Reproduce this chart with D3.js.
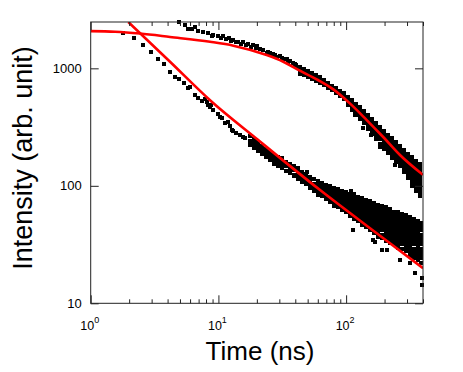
<!DOCTYPE html>
<html lang="en">

<head>
    <meta charset="utf-8" />
    <script src="https://cdnjs.cloudflare.com/ajax/libs/d3/7.8.5/d3.min.js"></script>
    <style type="text/css">
        body {
            margin: 0;
            background: #fff;
        }

        svg {
            display: block;
        }
    </style>
</head>

<body>
    <div class="svg-box"></div>
    <script type="text/javascript">
        // Fit curves (red)
        var upperFitT = [1, 1.55, 2.43, 4.18, 8.6, 13.1, 23.9, 32.2, 43.5, 58.9, 79.4, 107, 145, 196, 264, 400];
        var upperFitI = [2075, 2050, 1977, 1850, 1683, 1560, 1297, 1138, 955, 805, 662, 503, 363, 259, 183, 124];
        var lowerFitT = [1.97, 4.18, 8.6, 20.5, 62.5, 154, 400];
        var lowerFitI = [2480, 1138, 535, 245, 92, 43.5, 19.9];

        // Upper decay, sparse part + a few stray points
        var upperT = [4.94, 5.47, 5.81, 6.18, 6.56, 6.96, 7.62, 8.34, 8.9, 9.12, 9.98, 10.4, 10.9, 11.4, 12.0,
            12.6, 13.1, 13.7, 14.3, 15.0, 15.7, 16.4, 17.1, 18.0, 18.8, 19.8, 20.2, 21.2, 22.5, 23.9,
            24.6, 25.3, 26.9, 27.8, 28.6, 30.4, 31.3, 32.2, 34.3, 35.3, 36.4, 38.6, 39.6, 40.5, 42.3,
            136, 157, 184, 241];
        var upperI = [2470, 2330, 2160, 2160, 2250, 2075, 2020, 1980, 1870, 1940, 1900, 1820, 1880, 1790, 1810,
            1720, 1750, 1680, 1690, 1620, 1660, 1570, 1610, 1530, 1580, 1500, 1540, 1450, 1420, 1360,
            1390, 1340, 1320, 1290, 1260, 1270, 1230, 1200, 1190, 1140, 1150, 1110, 1080, 1060, 1000,
            312, 270, 215, 150];

        // Upper decay, dense part: one group of channels per entry
        var upperBandT = [43.5, 46.9, 50.3, 54.1, 58.2, 62.5, 67.1, 72.1, 77.6, 83.4, 89.6, 96.4, 103.5, 111, 119,
            128.5, 138, 148.5, 160, 171, 184, 198, 213, 229, 246, 264, 284, 305, 328, 352, 379];
        var upperBandI = [
            [1030, 950, 905], [986, 912, 877], [948, 877, 843], [912, 843, 811], [877, 811, 780],
            [835, 772, 750], [795, 735, 720], [750, 694, 680], [707, 654], [673, 622, 616],
            [641, 592, 581], [610, 564, 548], [570, 527, 487], [532, 492, 455, 442], [497, 459, 425, 400],
            [464, 429, 397, 370], [433, 400, 370, 342], [400, 370, 342, 316, 304], [370, 342, 316, 293, 276],
            [342, 316, 293, 270, 250], [316, 293, 270, 250, 227], [293, 270, 250, 231, 214, 206],
            [270, 250, 231, 214, 198, 190], [255, 236, 218, 202, 186, 172], [236, 218, 202, 186, 172, 159],
            [218, 202, 186, 172, 159, 147], [202, 186, 172, 159, 147, 136, 131], [186, 172, 159, 147, 136, 126, 117],
            [174, 161, 149, 138, 128, 118, 109, 101], [161, 149, 138, 128, 118, 109, 101, 94, 90],
            [151, 140, 130, 120, 111, 103, 95, 88, 82]
        ];

        // Lower decay, sparse part + outliers
        var lowerT = [1.80, 2.19, 2.58, 2.97, 3.38, 3.75, 4.18, 4.57, 4.94, 5.38, 5.81, 5.99, 6.56, 6.96, 7.4,
            7.86, 8.1, 8.34, 8.6, 8.8, 9.12, 9.98, 10.2, 10.6, 11.3, 11.8, 12.3, 12.7, 13.1, 13.8,
            14.8, 15.7, 16.2, 21.8, 28.6, 32.2, 36.4, 49.1, 60.6, 110, 114, 163, 168, 190, 208,
            264, 316, 348, 391, 391];
        var lowerI = [1986, 1799, 1578, 1368, 1193, 1094, 935, 849, 806, 754, 676, 697, 593, 556, 530,
            545, 520, 487, 466, 490, 441, 406, 385, 375, 340, 350, 323, 299, 290, 280,
            271, 262, 254, 189, 155, 160, 136, 132, 83.6, 90, 42, 34.6, 33.5, 28.4, 28.4,
            23.4, 22.0, 18.0, 16.3, 14.3];

        // Lower decay, dense part
        var lowerBandT = [17.7, 19.0, 20.4, 22.0, 23.6, 25.4, 27.3, 29.3, 31.5, 33.8, 36.4, 39.1, 42.0, 45.2, 48.5,
            52.1, 56.1, 60.3, 64.8, 69.6, 74.8, 80.4, 86.4, 92.9, 99.8, 107, 115, 124, 133, 143,
            154, 165, 178, 191, 205, 221, 237, 255, 274, 294, 316, 340, 365, 386];
        var lowerBandI = [
            [265, 240, 222], [250, 231, 212], [236, 218, 200], [218, 202, 188], [206, 190, 176],
            [194, 179, 166], [183, 168, 153], [176, 162, 149], [170, 156, 144], [159, 147, 134],
            [153, 142, 130], [147, 136, 124, 121], [140, 129, 119, 114], [131, 121, 112, 108], [126, 116, 108, 104],
            [118, 110, 101, 97], [114, 104, 96, 91], [110, 101, 92, 86], [106, 97, 89, 82], [102, 94, 86, 79, 77],
            [100, 92, 85, 78, 73], [96, 88, 81, 75, 69, 68], [94, 87, 80, 74, 68, 66], [90, 83, 77, 71, 65, 63],
            [88, 82, 75, 69, 64, 60], [85, 79, 73, 67, 62, 57, 56], [84, 77, 71, 66, 61, 56, 53],
            [80, 74, 68, 63, 58, 54, 50], [79, 73, 67, 62, 57, 53, 49, 47], [76, 70, 65, 60, 55, 51, 47, 45],
            [74, 68, 63, 58, 54, 50, 46, 42], [71, 66, 61, 56, 52, 48, 44, 40], [68, 63, 58, 54, 50, 46, 42, 39, 37],
            [67, 62, 57, 53, 49, 45, 42, 38, 36], [65, 60, 55, 51, 47, 43, 40, 37, 34], [63, 58, 54, 50, 46, 42, 39, 36, 33],
            [60, 56, 52, 48, 44, 40, 37, 34, 32], [59, 55, 51, 47, 43, 40, 37, 34, 31, 30], [57, 53, 49, 45, 41, 38, 35, 32, 29],
            [56, 52, 48, 44, 40, 37, 34, 31, 28], [54, 50, 46, 42, 39, 36, 33, 30, 27, 25.5], [52, 48, 45, 41, 38, 35, 32, 29, 27, 24.5],
            [50, 47, 43, 40, 37, 34, 31, 28, 26, 23.5], [48, 45, 42, 38, 35, 32, 29, 27, 24.5, 22]
        ];

        // Axes
        var xMajor = [1, 10, 100];
        var xMinor = [2, 3, 4, 5, 6, 7, 8, 9, 20, 30, 40, 50, 60, 70, 80, 90, 200, 300, 400];
        var yTicks = [10, 100, 1000];

        var width = 463;
        var height = 372;
        var margins = { top: 22, left: 90.7, right: 40, bottom: 68.7 };
        var innerWidth = width - margins.left - margins.right;
        var innerHeight = height - margins.top - margins.bottom;
        var font = "'Liberation Sans', Arial, sans-serif";

        var root = d3.select('div.svg-box')
            .append('svg')
            .attr('width', width)
            .attr('height', height);

        var svg = root.append('g')
            .attr('transform', 'translate(' + margins.left + ',' + margins.top + ')');

        var x = d3.scaleLog().domain([1, 400]).range([0, innerWidth]);
        var y = d3.scaleLog().domain([10, 2480]).range([innerHeight, 0]);

        // flatten the point lists; dense parts get slightly bigger squares so they close up
        var points = [];
        upperT.forEach(function (t, i) { points.push({ t: t, v: upperI[i], s: 4 }); });
        lowerT.forEach(function (t, i) { points.push({ t: t, v: lowerI[i], s: 4 }); });
        upperBandT.forEach(function (t, i) {
            upperBandI[i].forEach(function (v) { points.push({ t: t, v: v, s: 4.6 }); });
        });
        lowerBandT.forEach(function (t, i) {
            lowerBandI[i].forEach(function (v) { points.push({ t: t, v: v, s: 4.6 }); });
        });

        root.append('clipPath').attr('id', 'plotclip')
            .append('rect')
            .attr('width', innerWidth)
            .attr('height', innerHeight);

        svg.append('g')
            .attr('shape-rendering', 'crispEdges')
            .selectAll('rect')
            .data(points)
            .enter()
            .append('rect')
            .attr('x', function (d) { return x(d.t) - d.s / 2; })
            .attr('y', function (d) { return y(d.v) - d.s / 2; })
            .attr('width', function (d) { return d.s; })
            .attr('height', function (d) { return d.s; })
            .attr('fill', '#000');

        var line = d3.line()
            .x(function (d) { return x(d[0]); })
            .y(function (d) { return y(d[1]); })
            .curve(d3.curveMonotoneX);

        var fits = [
            upperFitT.map(function (t, i) { return [t, upperFitI[i]]; }),
            lowerFitT.map(function (t, i) { return [t, lowerFitI[i]]; })
        ];

        svg.append('g')
            .attr('clip-path', 'url(#plotclip)')
            .selectAll('path')
            .data(fits)
            .enter()
            .append('path')
            .attr('d', line)
            .attr('fill', 'none')
            .attr('stroke', '#ff0000')
            .attr('stroke-width', 2.6);

        // ticks, all pointing inward
        function ticks(axis, vals, len, tx, ty) {
            svg.append('g')
                .attr('transform', 'translate(' + tx + ',' + ty + ')')
                .attr('color', '#222')
                .call(axis.tickValues(vals).tickSizeInner(-len).tickSizeOuter(0).tickFormat(''))
                .call(function (g) {
                    g.select('.domain').remove();
                    g.selectAll('text').remove();
                });
        }
        ticks(d3.axisBottom(x), xMajor, 8, 0, innerHeight);
        ticks(d3.axisBottom(x), xMinor, 4, 0, innerHeight);
        ticks(d3.axisTop(x), xMajor, 8, 0, 0);
        ticks(d3.axisTop(x), xMinor, 4, 0, 0);
        ticks(d3.axisLeft(y), yTicks, 8, 0, 0);
        ticks(d3.axisRight(y), yTicks, 8, innerWidth, 0);

        svg.append('rect')
            .attr('width', innerWidth)
            .attr('height', innerHeight)
            .attr('fill', 'none')
            .attr('stroke', '#222')
            .attr('stroke-width', 1);

        svg.selectAll('.ylab')
            .data(yTicks)
            .enter()
            .append('text')
            .attr('class', 'ylab')
            .attr('x', -9)
            .attr('y', function (d) { return y(d) + 4.6; })
            .attr('text-anchor', 'end')
            .attr('font-family', font)
            .attr('font-size', 13)
            .text(function (d) { return d; });

        var xlab = svg.selectAll('.xlab')
            .data(xMajor)
            .enter()
            .append('text')
            .attr('class', 'xlab')
            .attr('x', function (d) { return x(d) - 1; })
            .attr('y', innerHeight + 27)
            .attr('text-anchor', 'middle')
            .attr('font-family', font)
            .attr('font-size', 12.5);
        xlab.append('tspan').text('10');
        xlab.append('tspan')
            .attr('dy', -7)
            .attr('font-size', 9)
            .text(function (d) { return Math.round(Math.log10(d)); });

        root.append('text')
            .attr('x', 260)
            .attr('y', 360)
            .attr('text-anchor', 'middle')
            .attr('font-family', font)
            .attr('font-size', 26)
            .text('Time (ns)');

        root.append('text')
            .attr('transform', 'translate(32,158) rotate(-90)')
            .attr('text-anchor', 'middle')
            .attr('font-family', font)
            .attr('font-size', 27)
            .text('Intensity (arb. unit)');
    </script>
</body>

</html>
